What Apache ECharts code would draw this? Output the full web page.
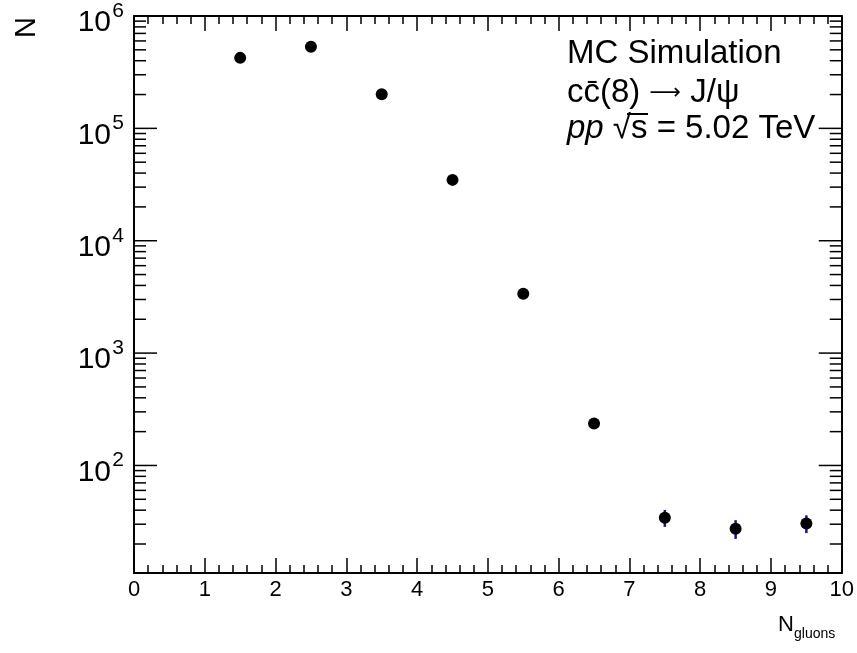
<!DOCTYPE html>
<html>
<head>
<meta charset="utf-8">
<script src="https://cdn.jsdelivr.net/npm/echarts@6/dist/echarts.min.js"></script>
<style>
html,body{margin:0;padding:0;background:#fff;}
#chart{width:857px;height:653px;}
</style>
</head>
<body>
<div id="chart"></div>
<script>
// ---- data ----
const binCenters = [1.5, 2.5, 3.5, 4.5, 5.5, 6.5, 7.5, 8.5, 9.5];
const counts = [424000, 533000, 201000, 34800, 3380, 236, 34.3, 27.4, 30.5];
const errors = [651, 730, 448, 187, 58, 15.4, 5.9, 5.2, 5.5];
const yDecades = [100, 1000, 10000, 100000, 1000000];
const yExponents = ['2', '3', '4', '5', '6'];
const yMin = 11.04, yMax = 1000000;

const FONT = 'Liberation Sans, Arial, Helvetica, sans-serif';

// y tick list (major + minor 2..9 per decade) within range
const yTickData = [];
[10, 100, 1000, 10000, 100000].forEach(function (d) {
  for (let m = 1; m <= 9; m++) {
    const v = d * m;
    if (v >= yMin && v <= yMax) yTickData.push([0, v, m === 1 ? 1 : 0]);
  }
});
yDecades.forEach(function (v) {
  if (!yTickData.some(function (t) { return t[1] === v; })) yTickData.push([0, v, 1]);
});
const expByVal = {};
yDecades.forEach(function (v, i) { expByVal[v] = yExponents[i]; });

const chart = echarts.init(document.getElementById('chart'), null, {renderer: 'canvas'});

const baseX = {
  type: 'value', min: 0, max: 10, interval: 1,
  axisLine: {show: true, onZero: false, lineStyle: {color: '#000', width: 2}},
  axisTick: {show: true, inside: true, length: 15, lineStyle: {color: '#000', width: 1.5}},
  minorTick: {show: true, splitNumber: 5, length: 8, lineStyle: {color: '#000', width: 1.5}},
  splitLine: {show: false}, minorSplitLine: {show: false}
};

const option = {
  backgroundColor: '#fff',
  animation: false,
  grid: {left: 134, right: 13, top: 16, bottom: 80, containLabel: false},
  xAxis: [
    Object.assign({}, baseX, {
      position: 'bottom',
      axisLabel: {show: true, color: '#000', fontSize: 22, fontFamily: FONT, margin: 6}
    }),
    Object.assign({}, baseX, {position: 'top', axisLabel: {show: false}})
  ],
  yAxis: [
    {type: 'log', logBase: 10, min: yMin, max: yMax, position: 'left',
     axisLine: {show: true, onZero: false, lineStyle: {color: '#000', width: 2}},
     axisTick: {show: false}, axisLabel: {show: false}, splitLine: {show: false}},
    {type: 'log', logBase: 10, min: yMin, max: yMax, position: 'right',
     axisLine: {show: true, onZero: false, lineStyle: {color: '#000', width: 2}},
     axisTick: {show: false}, axisLabel: {show: false}, splitLine: {show: false}}
  ],
  series: [
    {
      type: 'custom', name: 'yticks', coordinateSystem: 'cartesian2d',
      xAxisIndex: 0, yAxisIndex: 0, clip: false, silent: true,
      encode: {x: 0, y: 1},
      data: yTickData,
      renderItem: function (params, api) {
        const v = api.value(1);
        const major = api.value(2) === 1;
        const pl = api.coord([0, v]);
        const pr = api.coord([10, v]);
        const len = major ? 23 : 12;
        const children = [
          {type: 'line', shape: {x1: pl[0], y1: pl[1], x2: pl[0] + len, y2: pl[1]},
           style: {stroke: '#000', lineWidth: 1.5}},
          {type: 'line', shape: {x1: pr[0], y1: pr[1], x2: pr[0] - len, y2: pr[1]},
           style: {stroke: '#000', lineWidth: 1.5}}
        ];
        if (major && expByVal[v] !== undefined) {
          children.push({type: 'text', style: {text: '10', x: pl[0] - 23, y: pl[1] + 7,
            fill: '#000', font: '30px ' + FONT, align: 'right', verticalAlign: 'middle'}});
          children.push({type: 'text', style: {text: expByVal[v], x: pl[0] - 10, y: pl[1] - 5,
            fill: '#000', font: '21px ' + FONT, align: 'right', verticalAlign: 'middle'}});
        }
        return {type: 'group', children: children};
      },
      z: 3
    },
    {
      type: 'custom', name: 'errors', coordinateSystem: 'cartesian2d',
      clip: false, silent: true, encode: {x: 0, y: 1},
      data: binCenters.map(function (x, i) { return [x, counts[i], errors[i]]; }),
      renderItem: function (params, api) {
        const x = api.value(0), y = api.value(1), e = api.value(2);
        const lo = api.coord([x, y - e]);
        const hi = api.coord([x, y + e]);
        return {type: 'line', shape: {x1: lo[0], y1: lo[1], x2: hi[0], y2: hi[1]},
                style: {stroke: '#16169a', lineWidth: 2.5}};
      },
      z: 4
    },
    {
      type: 'scatter', name: 'N',
      data: binCenters.map(function (x, i) { return [x, counts[i]]; }),
      symbol: 'circle', symbolSize: 12,
      itemStyle: {color: '#000', opacity: 1},
      z: 5
    }
  ],
  graphic: [
    {type: 'text', left: 12, top: 17, rotation: Math.PI / 2,
     style: {text: 'N', font: '29px ' + FONT, fill: '#000'}},
    {type: 'text', x: 567, y: 54,
     style: {text: 'MC Simulation', font: '33px ' + FONT, fill: '#000', verticalAlign: 'middle'}},
    {type: 'text', x: 567, y: 93,
     style: {text: 'cc\u0304(8) {a|\u27F6} J/\u03C8', font: '33px ' + FONT, fill: '#000', verticalAlign: 'middle',
       rich: {a: {fontFamily: 'DejaVu Sans', fontSize: 22, fill: '#000'}}}},
    {type: 'text', x: 567, y: 129,
     style: {text: '{i|pp} \u221As = 5.02 TeV', font: '33px ' + FONT, fill: '#000', verticalAlign: 'middle',
       rich: {i: {fontStyle: 'italic', fontSize: 33, fontFamily: FONT, fill: '#000'}}}},
    {type: 'line', shape: {x1: 627, y1: 114, x2: 648, y2: 114},
     style: {stroke: '#000', lineWidth: 2}},
    {type: 'text', x: 778, y: 625,
     style: {text: 'N', font: '22px ' + FONT, fill: '#000', verticalAlign: 'middle'}},
    {type: 'text', x: 794, y: 634,
     style: {text: 'gluons', font: '14px ' + FONT, fill: '#000', verticalAlign: 'middle'}}
  ]
};
chart.setOption(option);
</script>
</body>
</html>
